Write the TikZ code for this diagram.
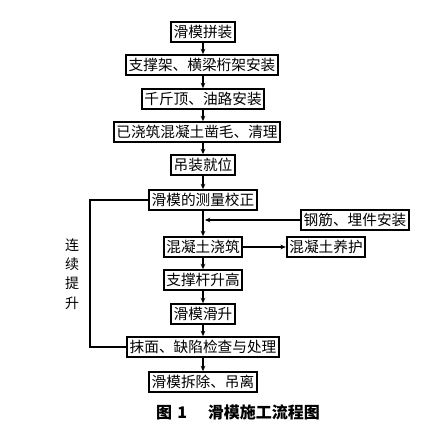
\documentclass[tikz,border=0pt]{standalone}
\usepackage{fontspec}
\newfontfamily\cjk{Noto Sans CJK SC}
\usetikzlibrary{arrows.meta}

\tikzset{
    stepbox/.style={draw, line width=1.3pt, font=\cjk\fontsize{11}{12}\selectfont,
        inner xsep=2pt, inner ysep=1pt, minimum height=15pt},
    flow/.style={line width=0.8pt, -{Stealth[length=4pt,width=3.5pt]}},
    sideflow/.style={line width=1.3pt, -{Stealth[length=4pt,width=3.5pt]}},
}

\begin{document}
\begin{tikzpicture}[x=0.75pt, y=-0.75pt]
    \useasboundingbox (0,0) rectangle (428,429);

    % main column
    \node[stepbox] (pinzhuang) at (203,32) {滑模拼装};
    \node[stepbox] (zhicheng) at (202,65) {支撑架、横梁桁架安装};
    \node[stepbox] (qianjin) at (203,99) {千斤顶、油路安装};
    \node[stepbox] (zaomao) at (197,132) {已浇筑混凝土凿毛、清理};
    \node[stepbox] (diaozhuang) at (203,165) {吊装就位};
    \node[stepbox] (celiang) at (203,200) {滑模的测量校正};
    \node[stepbox] (jiaozhu) at (203,247) {混凝土浇筑};
    \node[stepbox] (shenggao) at (203,280) {支撑杆升高};
    \node[stepbox] (huasheng) at (203,314) {滑模滑升};
    \node[stepbox] (momian) at (203,347) {抹面、缺陷检查与处理};
    \node[stepbox] (chaichu) at (203,382) {滑模拆除、吊离};

    % side boxes
    \node[stepbox] (gangjin) at (355,220) {钢筋、埋件安装};
    \node[stepbox] (yanghu) at (326,247) {混凝土养护};

    % arrows down the column
    \foreach \a/\b in {pinzhuang/zhicheng, zhicheng/qianjin, qianjin/zaomao,
        zaomao/diaozhuang, diaozhuang/celiang, celiang/jiaozhu, jiaozhu/shenggao,
        shenggao/huasheng, huasheng/momian, momian/chaichu}
        \draw[flow] (\a.south -| 203,0) -- (\b.north -| 203,0);

    % side inputs
    \coordinate (join) at (205,220);
    \draw[sideflow] (gangjin.west) -- (join);
    \draw[sideflow] (jiaozhu.east) -- (yanghu.west);

    % loop back
    \coordinate (lp) at (90,0);
    \draw[line width=1pt] (momian.west) -- (momian.west -| lp) -- (celiang.west -| lp) -- (celiang.west);
    \node[font=\cjk\fontsize{10.5}{14.5}\selectfont, align=center] (tisheng) at (72,274) {连\\续\\提\\升};

    % caption
    \node[font=\cjk\bfseries\fontsize{12}{14}\selectfont] (title) at (238,412) {图\,\,1\hspace{1.3em}滑模施工流程图};
\end{tikzpicture}
\end{document}
